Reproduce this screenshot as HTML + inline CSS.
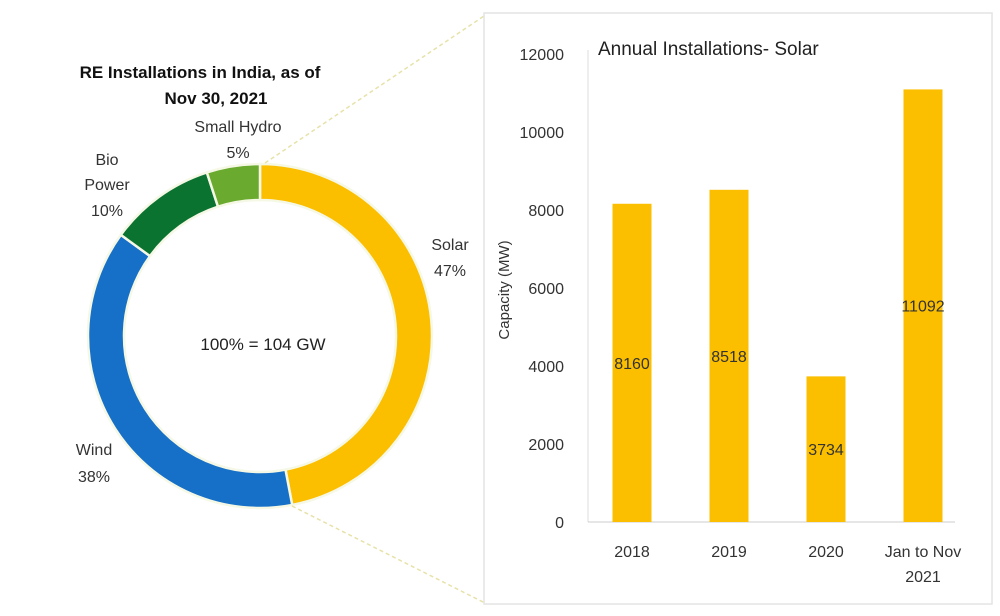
<!DOCTYPE html>
<html><head><meta charset="utf-8"><style>
body{margin:0;background:#fff;}
svg{display:block;font-family:"Liberation Sans",sans-serif;}
</style></head><body>
<svg width="1000" height="616" viewBox="0 0 1000 616">
<rect x="0" y="0" width="1000" height="616" fill="#fff"/>
<g id="donut"></g>
<text x="200" y="78" text-anchor="middle" font-size="17" font-weight="bold" fill="#111">RE Installations in India, as of</text>
<text x="216" y="104" text-anchor="middle" font-size="17" font-weight="bold" fill="#111">Nov 30, 2021</text>
<text x="263" y="350" text-anchor="middle" font-size="17" fill="#222">100% = 104 GW</text>
<g font-size="16" fill="#333" text-anchor="middle">
<text x="238" y="132">Small Hydro</text>
<text x="238" y="158">5%</text>
<text x="107" y="165">Bio</text>
<text x="107" y="190">Power</text>
<text x="107" y="216">10%</text>
<text x="450" y="250">Solar</text>
<text x="450" y="276">47%</text>
<text x="94" y="455">Wind</text>
<text x="94" y="482">38%</text>
</g>
<line x1="265" y1="163" x2="487" y2="14" stroke="#e6e2a8" stroke-width="1.5" stroke-dasharray="4,3"/>
<line x1="292" y1="506" x2="487" y2="604" stroke="#e6e2a8" stroke-width="1.5" stroke-dasharray="4,3"/>
<rect x="484" y="13" width="508" height="591" fill="#fff" stroke="#e4e4e4" stroke-width="1.5"/>
<text x="598" y="55" font-size="19" fill="#222">Annual Installations- Solar</text>
<text transform="translate(509,290) rotate(-90)" text-anchor="middle" font-size="15" fill="#333">Capacity (MW)</text>
<g id="bars"></g>
</svg>
<script>
const sliceNames=["Solar","Wind","Bio Power","Small Hydro"];
const sliceValues=[47,38,10,5];
const sliceColors=["#fbbf00","#1670c7","#0b7330","#6aaa2e"];
const categories=["2018","2019","2020","Jan to Nov|2021"];
const values=[8160,8518,3734,11092];
const tickValues=[0,2000,4000,6000,8000,10000,12000];
const NS="http://www.w3.org/2000/svg";
function mk(t,a,p){const e=document.createElementNS(NS,t);for(const k in a)e.setAttribute(k,a[k]);p.appendChild(e);return e;}
const dg=document.getElementById("donut");
const cx=260,cy=336,R=172,r=136;
const tot=sliceValues.reduce((a,b)=>a+b,0);
let ang=0;
function pt(rad,a){return [cx+rad*Math.sin(a),cy-rad*Math.cos(a)];}
sliceValues.forEach((v,i)=>{
 const a0=ang/tot*2*Math.PI;ang+=v;const a1=ang/tot*2*Math.PI;
 const large=(a1-a0)>Math.PI?1:0;
 const [x0,y0]=pt(R,a0),[x1,y1]=pt(R,a1),[x2,y2]=pt(r,a1),[x3,y3]=pt(r,a0);
 const p=mk("path",{d:`M${x0},${y0}A${R},${R} 0 ${large} 1 ${x1},${y1}L${x2},${y2}A${r},${r} 0 ${large} 0 ${x3},${y3}Z`,fill:sliceColors[i],stroke:"#f6f8e6","stroke-width":2.5},dg);
 
 
});
const bg=document.getElementById("bars");
const x0=588,x1=955,y0=522,ppu=(522-54)/12000;
function ys(v){return y0-v*ppu;}
const band=97,firstCenter=632;
tickValues.forEach(t=>{
 const tx=mk("text",{x:564,y:ys(t)+6,"text-anchor":"end","font-size":16,fill:"#333"},bg);
 tx.textContent=t;
 
 
});
const ax=mk("line",{x1:x0,y1:50,x2:x0,y2:y0,stroke:"#ddd","stroke-width":1},bg);


const bl=mk("line",{x1:x0,y1:y0,x2:x1,y2:y0,stroke:"#ccc","stroke-width":1},bg);


categories.forEach((c,i)=>{
 const cxb=firstCenter+band*i,w=39;
 const b=mk("rect",{x:cxb-w/2,y:ys(values[i]),width:w,height:y0-ys(values[i]),fill:"#fbbf00"},bg);
 
 
 const lv=mk("text",{x:cxb,y:ys(values[i]/2)+6,"text-anchor":"middle","font-size":16,fill:"#333"},bg);
 lv.textContent=values[i];
 
 
 c.split('|').forEach((line,j)=>{
  const t=mk("text",{x:cxb,y:557+j*25,"text-anchor":"middle","font-size":16,fill:"#333"},bg);
  t.textContent=line;
  
  
 });
});
</script>
</body></html>
